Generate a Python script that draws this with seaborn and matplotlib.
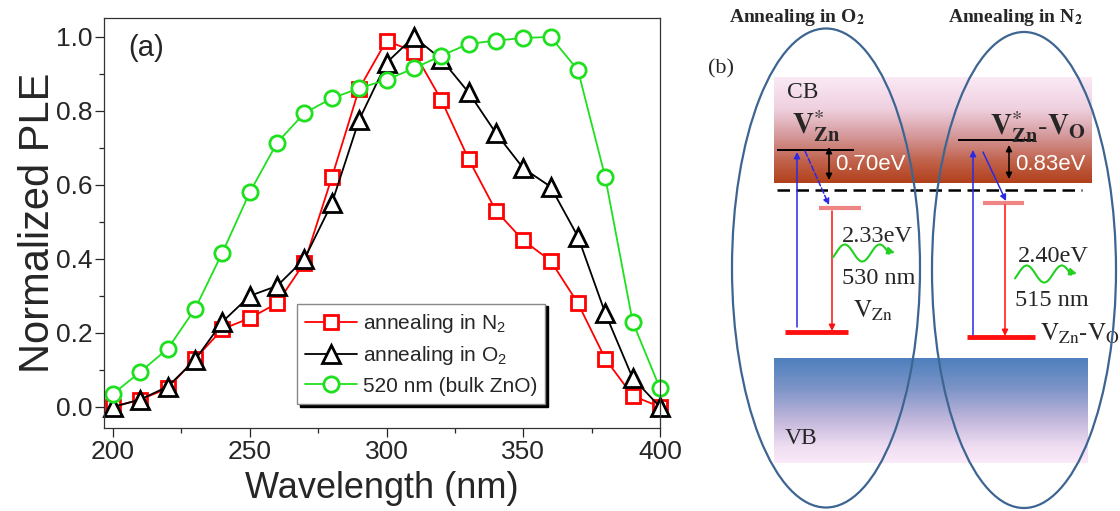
import numpy as np
import matplotlib.pyplot as plt
import seaborn as sns
from matplotlib.patches import Ellipse
from matplotlib.ticker import MultipleLocator
from matplotlib.colors import LinearSegmentedColormap

# ---- panel (a) data ----
wavelength = list(range(200, 401, 10))
ple_n2 = [0.00, 0.02, 0.05, 0.13, 0.21, 0.24, 0.28, 0.39, 0.62, 0.86, 0.99,
          0.96, 0.83, 0.67, 0.53, 0.45, 0.395, 0.28, 0.13, 0.03, 0.00]
ple_o2 = [0.00, 0.02, 0.055, 0.127, 0.23, 0.30, 0.327, 0.40, 0.55, 0.776, 0.93,
          1.00, 0.94, 0.85, 0.74, 0.645, 0.595, 0.46, 0.253, 0.078, 0.00]
ple_bulk = [0.035, 0.095, 0.157, 0.265, 0.417, 0.58, 0.714, 0.794, 0.834, 0.861, 0.884,
            0.915, 0.949, 0.981, 0.99, 0.997, 1.00, 0.91, 0.62, 0.23, 0.05]
labels = ['annealing in N$_2$', 'annealing in O$_2$', '520 nm (bulk ZnO)']
x_ticks = [200, 250, 300, 350, 400]
y_ticks = [0.0, 0.2, 0.4, 0.6, 0.8, 1.0]

sns.set_style('ticks')
plt.rcParams['font.family'] = ['Liberation Sans', 'DejaVu Sans']
plt.rcParams['mathtext.fontset'] = 'custom'
plt.rcParams['mathtext.rm'] = 'Liberation Sans'
plt.rcParams['mathtext.it'] = 'Liberation Sans:italic'
plt.rcParams['mathtext.bf'] = 'Liberation Sans:bold'
plt.rcParams['axes.linewidth'] = 0.9

fig = plt.figure(figsize=(11.2, 5.11), dpi=100)
ax = fig.add_axes([104 / 1120, 1 - 428 / 511, 556 / 1120, 410 / 511])

styles = [('red', 's', 10.5), ('black', '^', 12.5), ('#1fe01f', 'o', 11)]
for vals, label, (color, marker, ms) in zip([ple_n2, ple_o2, ple_bulk], labels, styles):
    sns.lineplot(x=wavelength, y=vals, ax=ax, color=color, lw=1.3, label=label,
                 marker=marker, markersize=ms, markerfacecolor='white',
                 markeredgecolor=color, markeredgewidth=2.0, clip_on=False)

ax.set_xlim(196.7, 400)
ax.set_ylim(-0.057, 1.051)
ax.set_xticks(x_ticks)
ax.set_yticks(y_ticks)
ax.set_yticklabels(['{:.1f}'.format(v) for v in y_ticks])
ax.xaxis.set_minor_locator(MultipleLocator(25))
ax.yaxis.set_minor_locator(MultipleLocator(0.1))
ax.tick_params(which='major', direction='out', length=6.5, width=0.9, labelsize=19, pad=2)
ax.tick_params(which='minor', direction='out', length=3.3, width=0.9)
for s in ax.spines.values():
    s.set_color('#333333')
ax.set_xlabel('Wavelength (nm)', fontsize=26, labelpad=5)
ax.set_ylabel('Normalized PLE', fontsize=30, labelpad=-2)
ax.text(0.043, 0.927, '(a)', transform=ax.transAxes, fontsize=21, va='center')

leg = ax.legend(loc='lower left', bbox_to_anchor=(0.347, 0.0585), borderaxespad=0,
                fontsize=15, handlelength=2.5, handletextpad=0.25, borderpad=0.4,
                labelspacing=0.45, fancybox=False, framealpha=1, edgecolor='#888888',
                shadow={'color': 'black', 'alpha': 1})
leg.get_frame().set_linewidth(1.0)

# ---- panel (b): energy level schematic, drawn in pixel-like units ----
axb = fig.add_axes([672 / 1120, 0, 448 / 1120, 1])
axb.axis('off')

serif = 'Liberation Serif'
cb_box = (774, 1092, 77, 183)
vb_box = (774, 1088, 358, 463)
cb_stops = [(0.0, '#fbe9f6'), (0.3, '#efd0df'), (0.55, '#d59a9c'), (0.8, '#c0614a'), (1.0, '#b2401a')]
vb_stops = [(0.0, '#4e80bd'), (0.3, '#7f95c8'), (0.6, '#c4b8dc'), (0.85, '#f0def2'), (1.0, '#fbeaf8')]


def gradient_box(box, stops):
    x0, x1, y0, y1 = box
    cmap = LinearSegmentedColormap.from_list('g', stops)
    grad = np.linspace(0, 1, 256).reshape(-1, 1)
    axb.imshow(grad, cmap=cmap, extent=(x0, x1, y1, y0), aspect='auto', zorder=1)


gradient_box(cb_box, cb_stops)
gradient_box(vb_box, vb_stops)

# dashed mid line
axb.plot([777, 1082], [190, 190], color='black', lw=1.8, ls=(0, (5, 2.6)), zorder=3)

# defect levels: (x0, x1, y, color, lw)
levels = [
    (777, 854, 150, 'black', 1.4),
    (958, 1035, 140, 'black', 1.4),
    (819, 861, 208, '#f08585', 3.0),
    (983, 1024, 203, '#f08585', 3.0),
    (785, 848, 332, '#ff1010', 3.5),
    (967, 1035, 337, '#ff1010', 3.5),
]
for x0, x1, y, c, lw in levels:
    axb.plot([x0, x1], [y, y], color=c, lw=lw, solid_capstyle='butt', zorder=3)

# arrows: (start, end, color, style, linestyle)
arrows = [
    ((797, 327), (797, 152), '#2a2ae6', '-|>', '-'),
    ((805, 151), (829, 205), '#2a2ae6', '-|>', '--'),
    ((832, 211), (832, 331), '#ff1010', '-|>', '-'),
    ((829, 147), (829, 180), 'black', '<|-|>', '-'),
    ((973, 335), (973, 150), '#2a2ae6', '-|>', '-'),
    ((983, 152), (1006, 201), '#2a2ae6', '-|>', '-'),
    ((1005, 205), (1005, 336), '#ff1010', '-|>', '-'),
    ((1009, 145), (1009, 179), 'black', '<|-|>', '-'),
]
for (xs, ys), (xe, ye), c, st, ls in arrows:
    axb.annotate('', xy=(xe, ye), xytext=(xs, ys),
                 arrowprops=dict(arrowstyle=st, color=c, lw=1.1, ls=ls,
                                 shrinkA=0, shrinkB=0, mutation_scale=9),
                 zorder=4)

# green photon wiggles
for x0, yc in [(836, 253), (1018, 274)]:
    wx = np.linspace(x0 - 3, x0 + 53, 80)
    wy = yc - 8.5 * np.sin(2 * np.pi * (wx - x0) / 35)
    axb.plot(wx, wy, color='#22d022', lw=1.5, zorder=4)
    axb.annotate('', xy=(wx[-1] + 6, wy[-1] - 1), xytext=(wx[-4], wy[-4]),
                 arrowprops=dict(arrowstyle='-|>', color='#22d022', lw=1.5,
                                 shrinkA=0, shrinkB=0, mutation_scale=10), zorder=4)

# ellipses
for (cx, cy), w, h in [((826, 268), 188, 479), ((1024, 270), 184, 476)]:
    axb.add_patch(Ellipse((cx, cy), w, h, fill=False, edgecolor='#3d6592', lw=1.6, zorder=6))

# texts
axb.text(797, 18, 'Annealing in O$_\\mathbf{2}$', ha='center', va='center', family=serif,
         fontweight='bold', fontsize=14, math_fontfamily='stix')
axb.text(1015, 18, 'Annealing in N$_\\mathbf{2}$', ha='center', va='center', family=serif,
         fontweight='bold', fontsize=14, math_fontfamily='stix')
axb.text(721, 69, '(b)', ha='center', va='center', family=serif, fontsize=16)
axb.text(787, 92, 'CB', ha='left', va='center', family=serif, fontsize=17, zorder=5)
axb.text(785, 438, 'VB', ha='left', va='center', family=serif, fontsize=17, zorder=5)
axb.text(792, 134, r'$\mathbf{V}^{*}_{\mathbf{Zn}}$', ha='left', va='baseline',
         fontsize=21, math_fontfamily='stix', zorder=5)
axb.text(990, 135, r'$\mathbf{V}^{*}_{\mathbf{Zn}}\text{-}\mathbf{V}_{\mathbf{O}}$', ha='left',
         va='baseline', fontsize=21, math_fontfamily='stix', zorder=5)
axb.text(835, 165, '0.70eV', ha='left', va='center', color='white', fontsize=16, zorder=5)
axb.text(1015, 164, '0.83eV', ha='left', va='center', color='white', fontsize=16, zorder=5)
axb.text(842, 236, '2.33eV', ha='left', va='center', family=serif, fontsize=17.5, zorder=5)
axb.text(842, 279, '530 nm', ha='left', va='center', family=serif, fontsize=17.5, zorder=5)
axb.text(853, 318, r'$\mathrm{V}_{\mathrm{Zn}}$', ha='left', va='baseline', fontsize=18,
         math_fontfamily='stix', zorder=5)
axb.text(1018, 256, '2.40eV', ha='left', va='center', family=serif, fontsize=17.5, zorder=5)
axb.text(1015, 300, '515 nm', ha='left', va='center', family=serif, fontsize=17.5, zorder=5)
axb.text(1040, 341, r'$\mathrm{V}_{\mathrm{Zn}}\text{-}\mathrm{V}_{\mathrm{O}}$', ha='left',
         va='baseline', fontsize=18, math_fontfamily='stix', zorder=5, clip_on=False)

axb.set_xlim(672, 1120)
axb.set_ylim(511, 0)

fig.savefig('out.png', dpi=100)
